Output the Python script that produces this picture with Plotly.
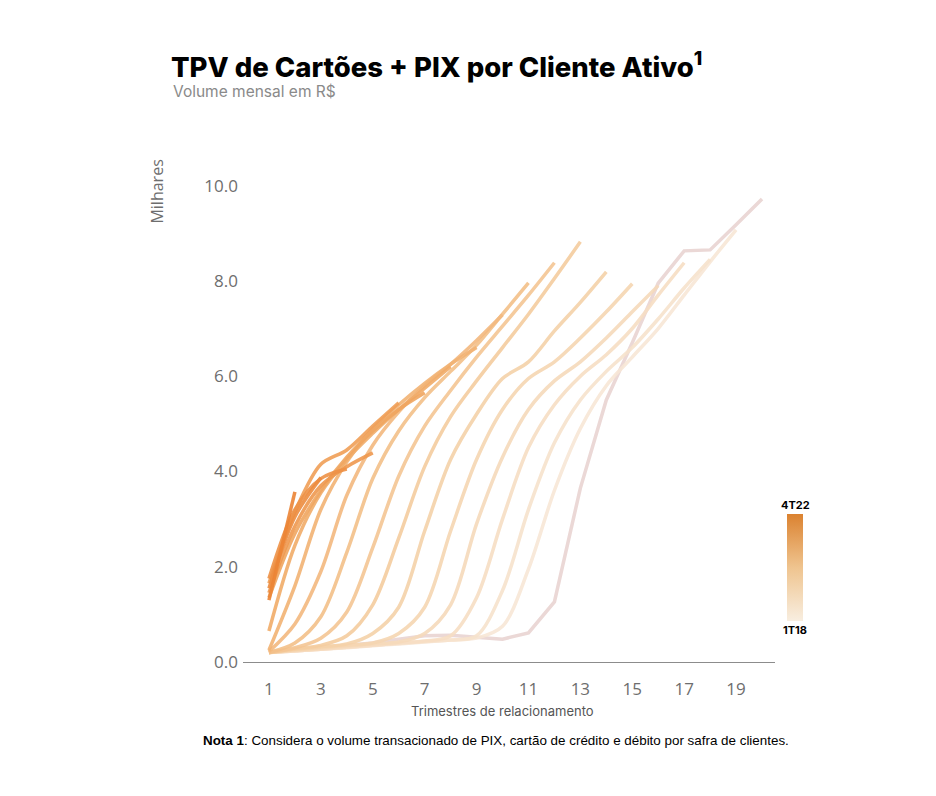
import plotly.graph_objects as go
from plotly.colors import sample_colorscale

# ---------------- data ----------------
cohorts = ["1T18", "2T18", "3T18", "4T18", "1T19", "2T19", "3T19", "4T19",
           "1T20", "2T20", "3T20", "4T20", "1T21", "2T21", "3T21", "4T21",
           "1T22", "2T22", "3T22", "4T22"]

tpv_1T18 = [0.20, 0.25, 0.30, 0.35, 0.40, 0.48, 0.55, 0.56, 0.52, 0.48, 0.61, 1.26, 3.65, 5.50, 6.70, 7.95, 8.63, 8.65, 9.18, 9.72]
tpv_2T18 = [0.20, 0.23, 0.27, 0.30, 0.34, 0.38, 0.42, 0.46, 0.50, 0.75, 1.95, 3.60, 4.90, 5.80, 6.40, 7.00, 7.70, 8.40, 9.07]
tpv_3T18 = [0.20, 0.23, 0.27, 0.31, 0.35, 0.39, 0.43, 0.46, 0.55, 1.50, 3.20, 4.60, 5.50, 6.10, 6.60, 7.20, 7.85, 8.45]
tpv_4T18 = [0.20, 0.23, 0.27, 0.31, 0.35, 0.40, 0.44, 0.55, 1.35, 3.00, 4.50, 5.40, 6.00, 6.45, 7.00, 7.70, 8.38]
tpv_1T19 = [0.20, 0.24, 0.28, 0.33, 0.38, 0.42, 0.60, 1.20, 2.90, 4.30, 5.30, 5.90, 6.30, 6.80, 7.35, 7.90]
tpv_2T19 = [0.20, 0.25, 0.30, 0.35, 0.40, 0.60, 1.15, 2.75, 4.25, 5.30, 5.95, 6.30, 6.80, 7.35, 7.94]
tpv_3T19 = [0.20, 0.26, 0.32, 0.38, 0.60, 1.15, 2.75, 4.25, 5.20, 5.95, 6.30, 6.95, 7.55, 8.19]
tpv_4T19 = [0.20, 0.28, 0.35, 0.55, 1.20, 2.60, 4.10, 5.15, 5.90, 6.60, 7.30, 8.05, 8.82]
tpv_1T20 = [0.20, 0.30, 0.50, 1.05, 2.40, 3.90, 4.95, 5.70, 6.40, 7.05, 7.70, 8.38]
tpv_2T20 = [0.20, 0.40, 0.95, 2.30, 3.85, 4.85, 5.55, 6.10, 6.65, 7.30, 7.96]
tpv_3T20 = [0.22, 0.80, 1.90, 3.50, 4.55, 5.25, 5.80, 6.25, 6.75, 7.29]
tpv_4T20 = [0.25, 1.60, 3.20, 4.20, 4.90, 5.40, 5.85, 6.25, 6.60]
tpv_1T21 = [0.65, 2.45, 3.55, 4.25, 4.80, 5.30, 5.75, 6.20]
tpv_2T21 = [1.35, 2.70, 3.60, 4.30, 4.85, 5.30, 5.65]
tpv_3T21 = [1.65, 3.15, 4.15, 4.45, 4.95, 5.44]
tpv_4T21 = [1.45, 2.85, 3.70, 4.10, 4.39]
tpv_1T22 = [1.75, 3.20, 3.85, 4.05]
tpv_2T22 = [1.55, 3.05, 3.87]
tpv_3T22 = [1.30, 3.57]
tpv_4T22 = [1.50]

series = [tpv_1T18, tpv_2T18, tpv_3T18, tpv_4T18, tpv_1T19, tpv_2T19, tpv_3T19,
          tpv_4T19, tpv_1T20, tpv_2T20, tpv_3T20, tpv_4T20, tpv_1T21, tpv_2T21,
          tpv_3T21, tpv_4T21, tpv_1T22, tpv_2T22, tpv_3T22, tpv_4T22]

x_ticks = [1, 3, 5, 7, 9, 11, 13, 15, 17, 19]
y_ticks = [0, 2, 4, 6, 8, 10]

# ---------------- styling ----------------
line_scale = [[0.0, "#E9D4D2"], [0.05, "#F8E7D6"], [0.35, "#F5CFA3"],
              [0.65, "#F1AA65"], [1.0, "#EB7F2E"]]
bar_scale = [[0.0, "#F8EEE0"], [0.5, "#EFC48F"], [1.0, "#DB8230"]]

n = len(cohorts)
colors = sample_colorscale(line_scale, [i / (n - 1) for i in range(n)])

fig = go.Figure()
for i, (name, vals) in enumerate(zip(cohorts, series)):
    fig.add_trace(go.Scatter(
        x=list(range(1, len(vals) + 1)), y=vals, name=name, mode="lines",
        line=dict(color=colors[i], width=3.5,
                  shape="linear" if i == 0 else "spline", smoothing=0.9),
        opacity=0.9, showlegend=False, hoverinfo="skip"))

# colour bar (dummy trace)
fig.add_trace(go.Scatter(
    x=[None], y=[None], mode="markers", showlegend=False, hoverinfo="skip",
    marker=dict(color=[0], cmin=0, cmax=1, colorscale=bar_scale, showscale=True,
                colorbar=dict(x=1.0226, xanchor="left", y=0.188, yanchor="middle",
                              thickness=16, lenmode="pixels", len=107,
                              outlinewidth=0, showticklabels=False, ticks="",
                              xpad=0, ypad=0))))

tick_font = dict(family="Open Sans", size=17, color="#6e6e6e")

fig.update_layout(
    width=936, height=796,
    margin=dict(l=235, r=169, t=149, b=142),
    paper_bgcolor="white", plot_bgcolor="white",
    xaxis=dict(range=[0, 20.5], tickvals=x_ticks, showgrid=False, zeroline=False,
               showline=True, linecolor="#8c8c8c", linewidth=1, ticks="",
               tickfont=tick_font, ticklabelstandoff=12),
    yaxis=dict(range=[0, 10.6], tickvals=y_ticks, tickformat=".1f", showgrid=False,
               zeroline=False, showline=False, ticks="", tickfont=tick_font,
               ticklabelstandoff=4),
)

annotations = [
    dict(text="TPV de Cartões + PIX por Cliente Ativo<sup>1</sup>", x=-0.139, y=1.183,
         xanchor="left", yanchor="middle",
         font=dict(family="Inter", size=27.5, color="#000000", weight=800)),
    dict(text="Volume mensal em R$", x=-0.1355, y=1.1290, xanchor="left", yanchor="middle",
         font=dict(family="Inter", size=15.5, color="#8a8a8a")),
    dict(text="Milhares", x=-0.1617, y=0.9315, textangle=-90, xanchor="center",
         yanchor="middle", font=dict(family="Open Sans", size=16, color="#6e6e6e")),
    dict(text="Trimestres de relacionamento", x=0.4887, y=-0.0971, xanchor="center",
         yanchor="middle", font=dict(family="Inter", size=13, color="#555555")),
    dict(text="<b>Nota 1</b>: Considera o volume transacionado de PIX, cartão de crédito e débito por safra de clientes.",
         x=0.4756, y=-0.1546, xanchor="center", yanchor="middle",
         font=dict(family="Liberation Sans", size=13.4, color="#000000")),
    dict(text="<b>4T22</b>", x=1.0376, y=0.311, xanchor="center", yanchor="middle",
         font=dict(family="Inter", size=11, color="#000000")),
    dict(text="<b>1T18</b>", x=1.0376, y=0.0634, xanchor="center", yanchor="middle",
         font=dict(family="Inter", size=11, color="#000000")),
]
for a in annotations:
    a.update(xref="paper", yref="paper", showarrow=False)
fig.update_layout(annotations=annotations)

fig.write_html("out.html")
